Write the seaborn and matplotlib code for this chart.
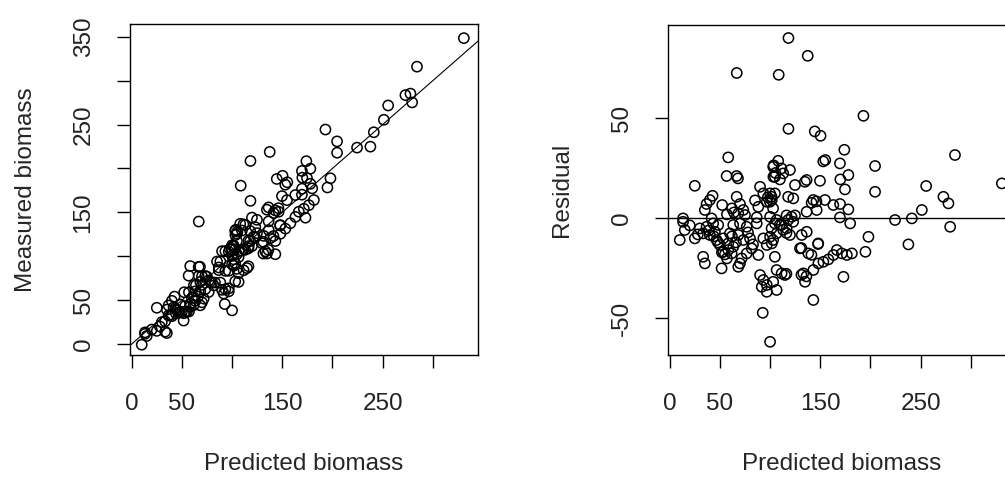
import pandas as pd
import numpy as np
import matplotlib
matplotlib.use("Agg")
import matplotlib.pyplot as plt
import seaborn as sns

# values (predicted, residual = measured - predicted)
predicted = [
    118.3, 137.5, 66.8, 108.6, 193.0, 118.3, 144.5, 150.3, 174.0, 284.2,
    58.3, 153.0, 155.0, 108.1, 169.6, 103.1, 204.6, 119.8, 113.1, 56.7,
    66.7, 68.0, 104.8, 109.8, 178.0, 170.0, 136.4, 134.7, 149.7, 103.3,
    25.0, 124.8, 90.0, 255.5, 330.9, 174.6, 204.6, 93.3, 100.0, 104.8,
    42.7, 66.7, 118.0, 123.1, 101.5, 272.7, 40.0, 101.7, 143.0, 154.7,
    96.7, 99.8, 141.4, 277.7, 36.7, 70.0, 169.7, 52.3, 163.0, 88.3,
    103.0, 35.0, 73.3, 146.4, 251.2, 178.0, 136.4, 68.3, 75.0, 116.4,
    124.8, 121.4, 100.0, 86.7, 169.6, 13.3, 41.7, 241.2, 224.5, 106.5,
    118.0, 103.6, 111.3, 105.3, 85.0, 146.2, 97.7, 62.0, 64.0, 57.0,
    13.3, 10.0, 15.0, 25.0, 20.0, 33.3, 35.0, 51.7, 68.3, 71.7,
    76.7, 81.7, 88.3, 90.0, 93.3, 96.7, 96.7, 91.7, 92.7, 100.0,
    93.3, 100.0, 101.7, 96.7, 33.3, 40.0, 46.7, 50.0, 53.3, 58.3,
    61.7, 63.3, 58.3, 53.3, 45.0, 36.7, 43.3, 48.3, 63.3, 70.0,
    76.7, 68.3, 73.3, 60.0, 86.7, 103.0, 106.5, 101.5, 104.8, 111.5,
    116.5, 119.8, 123.0, 131.5, 136.5, 129.8, 148.0, 198.0, 195.0, 138.1,
    133.1, 134.8, 143.1, 148.1, 153.1, 158.1, 163.1, 166.5, 171.5, 176.5,
    181.5, 173.1, 143.1, 104.8, 106.5, 111.5, 114.8, 103.1, 106.5, 179.8,
    279.4, 237.8, 109.6, 113.0, 116.3, 131.2, 141.2, 147.8, 131.2, 136.2,
    116.3, 70.0, 48.0, 55.0, 57.0, 52.0, 44.0, 39.0, 30.0, 28.0,
    62.0, 66.0, 78.0, 80.0, 83.0,
]
residual = [
    90.2, 81.3, 72.7, 71.8, 51.3, 44.8, 43.5, 41.3, 34.3, 31.7,
    30.5, 28.5, 29.2, 28.8, 27.5, 25.8, 26.2, 24.2, 22.5, 21.2,
    21.2, 20.0, 20.8, 19.5, 21.7, 19.5, 19.2, 18.3, 18.8, 20.8,
    16.3, 16.7, 15.8, 16.2, 17.5, 14.5, 13.3, 12.5, 12.5, 12.5,
    11.3, 10.8, 10.8, 10.0, 10.8, 10.8, 9.2, 9.2, 9.2, 9.2,
    8.3, 8.3, 7.8, 7.5, 7.2, 7.2, 7.2, 6.7, 6.7, 5.8,
    5.0, 4.2, 4.2, 4.2, 4.2, 4.5, 3.3, 2.5, 1.7, 1.5,
    1.5, 0.8, 0.8, 0.5, 0.5, 0.0, 0.0, 0.0, -0.8, -0.8,
    -0.8, 26.5, 25.0, 22.7, 9.0, 8.5, 10.5, 5.0, 3.0, 2.0,
    -1.7, -10.8, -5.8, -10.0, -3.5, -19.2, -22.5, -25.0, -24.2, -20.0,
    -17.5, -15.0, -18.3, -28.3, -30.8, -33.3, -36.7, -34.2, -47.2, -61.7,
    -10.0, -9.2, -12.5, -13.3, -7.5, -8.3, -10.8, -13.3, -16.7, -15.8,
    -17.5, -14.2, -12.5, -10.0, -6.7, -4.2, -2.5, -3.3, -3.3, -2.5,
    -4.2, -8.3, -10.8, -7.5, -2.5, -10.8, -7.5, -5.0, -2.5, -3.3,
    -5.0, -8.3, -1.7, -8.3, -6.7, -15.0, -12.5, -9.2, -16.7, -17.5,
    -27.5, -31.7, -25.8, -22.5, -21.7, -20.5, -18.3, -15.8, -17.5, -18.3,
    -17.5, -29.2, -40.8, -19.2, -25.8, -27.5, -28.3, -31.7, -35.8, -2.5,
    -4.2, -13.0, -3.2, -5.7, -7.3, -14.8, -18.2, -12.8, -28.2, -29.0,
    -27.7, -22.5, -12.0, -18.0, -20.0, -17.0, -9.0, -6.0, -5.0, -8.0,
    -9.0, -12.0, -7.0, -10.0, -13.0,
]

df = pd.DataFrame({"Predicted": predicted, "Residual": residual})
df["Measured"] = df["Predicted"] + df["Residual"]

sns.set_style("ticks")
plt.rcParams["font.family"] = ["Liberation Sans", "DejaVu Sans"]
plt.rcParams["text.color"] = "#222222"
FS = 17.5

fig = plt.figure(figsize=(10.05, 4.79), dpi=100)
ax1 = fig.add_axes([130 / 1005, 124 / 479, 348 / 1005, 331 / 479])
ax2 = fig.add_axes([668 / 1005, 124 / 479, 348 / 1005, 330 / 479])

marker_kw = dict(s=54, marker="o", facecolor="none", edgecolor="black", linewidth=1.1)

sns.scatterplot(data=df, x="Predicted", y="Measured", ax=ax1, **marker_kw)
ax1.axline((0, 0), slope=1, color="black", linewidth=0.8)

sns.scatterplot(data=df, x="Predicted", y="Residual", ax=ax2, **marker_kw)
ax2.axhline(0, color="black", linewidth=1.0)

xt = [0, 50, 100, 150, 200, 250, 300]
xt_lab = ["0", "50", "", "150", "", "250", ""]

ax1.set_xlim(-1.7, 345)
ax1.set_ylim(-12.5, 364.5)
ax1.set_yticks([0, 50, 100, 150, 200, 250, 300, 350])
ax1.set_yticklabels(["0", "50", "", "150", "", "250", "", "350"], rotation=90, va="center")
ax1.set_ylabel("Measured biomass", fontsize=FS)
ax1.yaxis.set_label_coords(-0.298, 0.5)

ax2.set_xlim(-1.7, 345)
ax2.set_ylim(-68.3, 96.7)
ax2.set_yticks([-50, 0, 50])
ax2.set_yticklabels(["-50", "0", "50"], rotation=90, va="center")
ax2.set_ylabel("Residual", fontsize=FS)
ax2.yaxis.set_label_coords(-0.305, 0.5)

for ax in (ax1, ax2):
    ax.set_xticks(xt)
    ax.set_xticklabels(xt_lab)
    ax.set_xlabel("Predicted biomass", fontsize=FS)
    ax.xaxis.set_label_coords(0.5, -0.33)
    ax.xaxis.label.set_verticalalignment("center")
    ax.yaxis.label.set_verticalalignment("center")
    ax.tick_params(axis="both", direction="out", length=9.5, width=1.0,
                   bottom=True, left=True, top=False, right=False,
                   color="black", labelsize=FS, labelcolor="#222222")
    ax.tick_params(axis="x", pad=18)
    ax.tick_params(axis="y", pad=16)
    for sp in ax.spines.values():
        sp.set_visible(True)
        sp.set_color("black")
        sp.set_linewidth(1.0)
    ax.grid(False)

fig.savefig("out.png", dpi=100)
plt.close(fig)
